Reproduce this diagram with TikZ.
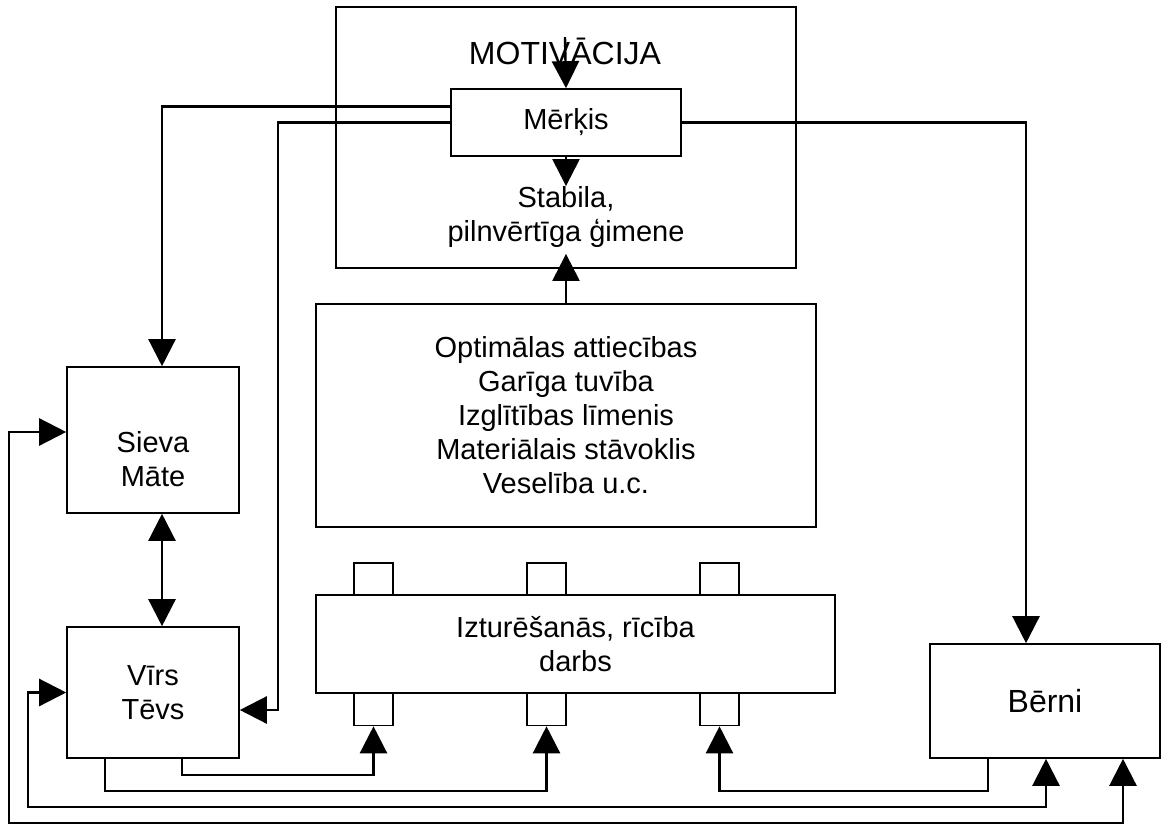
\documentclass[tikz,border=0pt]{standalone}
\usepackage{fontspec}
\setmainfont{Liberation Sans}
\usetikzlibrary{arrows.meta}

\begin{document}
\begin{tikzpicture}[
    x=0.5pt, y=-0.5pt,
    frame/.style={rectangle, draw, line width=0.8pt, inner sep=0pt},
    box/.style={rectangle, draw, line width=0.8pt, align=center,
        font=\fontsize{14.5}{17}\selectfont},
    tab/.style={rectangle, draw, line width=0.8pt, minimum width=19.5pt,
        minimum height=16pt, inner sep=0pt},
    txt/.style={inner sep=0pt, align=center, font=\fontsize{14.5}{17}\selectfont},
    conn/.style={line width=1.2pt, -{Triangle[length=13.5pt,width=13.5pt]}},
    dbl/.style={line width=1.2pt,
        {Triangle[length=13.5pt,width=13.5pt]}-{Triangle[length=13.5pt,width=13.5pt]}}
]
\useasboundingbox (0,0) rectangle (1161,824);

\node (Motivacija) [frame, minimum width=230pt, minimum height=130.5pt] at (566,137.5) {};
\node (MotivTitle) [txt, font=\fontsize{16}{19}\selectfont] at (565,51) {MOTIVĀCIJA};
\node (Merkis) [box, minimum width=115pt, minimum height=33.5pt] at (566,122.5) {Mērķis};
\node (Stabila) [txt] at (566,217) {Stabila,\\pilnvērtīga ģimene};
\node (Optimalas) [box, minimum width=250pt, minimum height=111.5pt] at (566,415.5)
  {Optimālas attiecības\\Garīga tuvība\\Izglītības līmenis\\Materiālais stāvoklis\\Veselība u.c.};
\node (Izturesanas) [box, minimum width=259.5pt, minimum height=49pt] at (575.5,644)
  {Izturēšanās, rīcība\\darbs};
\foreach \i/\x in {1/373.5, 2/546.5, 3/719.5} {
  \node (sqT\i) [tab] at (\x,579) {};
  \node (sqB\i) [tab] at (\x,709.5) {};
}
\node (Sieva) [box, minimum width=86pt, minimum height=73pt,
  label={[txt, yshift=-9.5pt]center:Sieva\\Māte}] at (153,440) {};
\node (Virs) [box, minimum width=86pt, minimum height=65.5pt] at (153,692.5) {Vīrs\\Tēvs};
\node (Berni) [box, minimum width=115pt, minimum height=57pt,
  font=\fontsize{16}{19}\selectfont] at (1045,701) {Bērni};

\coordinate (laneA) at (0,775);
\coordinate (laneB) at (0,791);
\coordinate (laneC) at (0,807);
\coordinate (laneD) at (0,823);
\coordinate (railC) at (28,0);
\coordinate (railD) at (9,0);
\coordinate (bendVirs) at (278,710);
\coordinate (inC) at ([xshift=0.5pt]Berni.south);
\coordinate (inD) at ([xshift=39pt]Berni.south);

\draw [conn] (MotivTitle.north) -- (Merkis.north);
\draw [conn] (Merkis.south) -- (Stabila.north);
\draw [conn] (Optimalas.north) -- ([yshift=-3pt]Stabila.south);
\draw [conn] ([yshift=8pt]Merkis.west) -| ([xshift=4.5pt]Sieva.north);
\draw [conn] (Merkis.west) -| (bendVirs) -- ([yshift=-8.75pt]Virs.east);
\draw [conn] (Merkis.east) -| ([xshift=-9.5pt]Berni.north);
\draw [dbl] ([xshift=4.5pt]Sieva.south) -- ([xshift=4.5pt]Virs.north);
\draw [conn] ([xshift=14.5pt]Virs.south) |- (sqB1.south |- laneA) -- (sqB1.south);
\draw [conn] ([xshift=-24pt]Virs.south) |- (sqB2.south |- laneB) -- (sqB2.south);
\draw [conn] ([xshift=-28.5pt]Berni.south) |- (sqB3.south |- laneB) -- (sqB3.south);
\draw [dbl] (Virs.west) -- (Virs.west -| railC) |- (inC |- laneC) -- (inC);
\draw [dbl] ([yshift=4pt]Sieva.west) -- ([yshift=4pt]Sieva.west -| railD) |- (inD |- laneD) -- (inD);

\end{tikzpicture}
\end{document}
